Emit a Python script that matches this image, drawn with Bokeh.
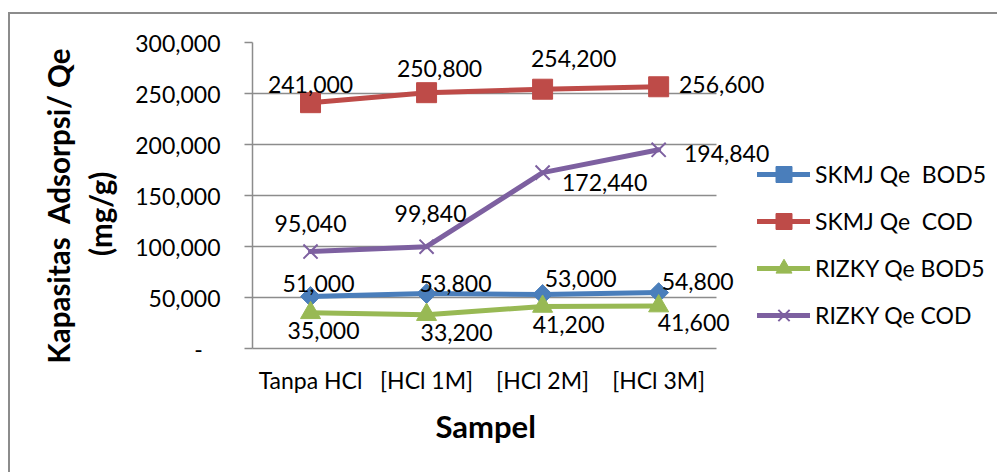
import math

from bokeh.plotting import figure
from bokeh.models import (Range1d, FixedTicker, CustomJSTickFormatter, Legend, LegendItem,
                          Title, ColumnDataSource, Grid, InlineStyleSheet)
from bokeh.core.properties import value
from bokeh.embed import file_html
from bokeh.resources import INLINE

# ---- data -------------------------------------------------------------
categories = ["Tanpa HCl", "[HCl 1M]", "[HCl 2M]", "[HCl 3M]"]
skmj_bod5 = [51000, 53800, 53000, 54800]
skmj_cod = [241000, 250800, 254200, 256600]
rizky_bod5 = [35000, 33200, 41200, 41600]
rizky_cod = [95040, 99840, 172440, 194840]
series_names = ["SKMJ Qe\u00a0 BOD5", "SKMJ Qe\u00a0 COD", "RIZKY Qe BOD5", "RIZKY Qe COD"]
y_ticks = [0, 50000, 100000, 150000, 200000, 250000, 300000]
y_title = ["Kapasitas\u00a0 Adsorpsi/ Qe", "(mg/g)"]
x_title = "Sampel"

# ---- styling ----------------------------------------------------------
FONT = "Lato"
GRID = "#8c8c8c"
colors = ["#4a7ebb", "#be4b48", "#98b954", "#7d60a0"]
markers = ["square", "square", "triangle", "x"]
marker_angles = [math.pi / 4, 0, 0, 0]
marker_sizes = [14, 20, 20, 20]
# pixel offsets (right, down) of each value label from its point
label_dx = [[8, 29, 38, 39], [0, 13, 31, 63], [13, 30, 26, 35], [0, 4, 62, 68]]
label_dy = [[-13, -10, -16, -11], [-18, -24, -31, -2], [18, 18, 18, 16], [-28, -33, 10, 4]]

# category slots sit at 0.5, 1.5, ... ; the frame runs on past the last slot
# so the legend and the right-hand value labels share it
x_pos = [i + 0.5 for i in range(len(categories))]
n_cat = len(categories)

p = figure(width=997, height=472, output_backend="svg", toolbar_location=None,
           x_range=Range1d(0, 6.42), y_range=Range1d(0, 300000),
           min_border_left=252, min_border_right=0,
           min_border_top=42, min_border_bottom=124)
p.outline_line_color = None
p.background_fill_color = "white"
p.border_fill_color = "white"

# y axis
p.yaxis.ticker = FixedTicker(ticks=y_ticks)
p.yaxis.formatter = CustomJSTickFormatter(
    code="return tick == 0 ? '-\u00a0\u00a0\u00a0' : tick.toLocaleString('en-US');")
p.yaxis.major_tick_out = 8
p.yaxis.major_tick_in = 0
p.yaxis.minor_tick_line_color = None
p.yaxis.axis_line_color = GRID
p.yaxis.axis_line_width = 1.5
p.yaxis.major_tick_line_color = GRID
p.yaxis.major_tick_line_width = 1.5
p.yaxis.major_label_standoff = 24
p.yaxis.major_label_text_font = FONT
p.yaxis.major_label_text_font_size = "23px"
p.yaxis.major_label_text_color = "black"

# x axis (category names at the slot centres)
p.xaxis.ticker = FixedTicker(ticks=x_pos)
p.xaxis.formatter = CustomJSTickFormatter(args=dict(cats=categories),
                                          code="return cats[Math.floor(tick)];")
p.xaxis.bounds = (0, n_cat)
p.xaxis.major_tick_line_color = None
p.xaxis.minor_tick_line_color = None
p.xaxis.axis_line_color = GRID
p.xaxis.axis_line_width = 1.5
p.xaxis.major_label_standoff = 11
p.xaxis.major_label_text_font = FONT
p.xaxis.major_label_text_font_size = "23px"
p.xaxis.major_label_text_color = "black"

p.xgrid.grid_line_color = None
p.ygrid.ticker = FixedTicker(ticks=y_ticks)
if "cross_bounds" in Grid.properties():
    p.ygrid.cross_bounds = (0, n_cat)
    p.ygrid.grid_line_color = GRID
    p.ygrid.grid_line_width = 1.5
else:
    p.ygrid.grid_line_color = None
    p.segment(x0=[0] * len(y_ticks), x1=[n_cat] * len(y_ticks), y0=y_ticks, y1=y_ticks,
              line_color=GRID, line_width=1.5, level="underlay")

# series: line, markers and value labels
legend_items = []
all_series = [skmj_bod5, skmj_cod, rizky_bod5, rizky_cod]
for i, vals in enumerate(all_series):
    src = ColumnDataSource(dict(x=x_pos, y=vals,
                                label=[f"{v:,}" for v in vals],
                                dx=label_dx[i], dy=label_dy[i]))
    ln = p.line("x", "y", source=src, line_color=colors[i], line_width=5,
                line_join="round", line_cap="round")
    mk = p.scatter("x", "y", source=src, marker=markers[i], size=marker_sizes[i],
                   angle=marker_angles[i], fill_color=colors[i], line_color=colors[i],
                   line_width=2 if markers[i] == "x" else 1)
    p.text("x", "y", text="label", source=src, x_offset="dx", y_offset="dy",
           text_font=value(FONT), text_font_size="23px", text_color="black",
           text_align="center", text_baseline="middle")
    legend_items.append(LegendItem(label=series_names[i], renderers=[ln, mk]))

legend = Legend(items=legend_items, location=(505, 13), orientation="vertical",
                glyph_width=53, glyph_height=40, label_standoff=5, spacing=7,
                padding=0, margin=0, border_line_color=None,
                background_fill_alpha=0,
                label_text_font=FONT, label_text_font_size="23px",
                label_text_color="black", label_height=30)
p.add_layout(legend, "center")

# axis titles; the second y-title line is padded so it sits centred under the first
pad = "\u00a0" * 15
p.add_layout(Title(text=y_title[0] + "\n" + pad + y_title[1], align="left", offset=-15,
                   vertical_align="bottom", standoff=30, text_line_height=1.2,
                   text_font=FONT, text_font_style="bold", text_font_size="29.5px",
                   text_color="black"), "left")
p.add_layout(Title(text=x_title, align="left", offset=183,
                   vertical_align="top", standoff=20,
                   text_font=FONT, text_font_style="bold", text_font_size="31px",
                   text_color="black"), "below")

# chart border (left and top edges; the others run off the page)
p.stylesheets = [InlineStyleSheet(css="""
:host::after {
  content: ""; position: absolute; left: 8px; top: 12px; right: 0; bottom: 0;
  border-left: 2px solid #8c8c8c; border-top: 2px solid #8c8c8c;
  pointer-events: none;
}
""")]

open("out.html", "w").write(file_html(p, INLINE))
